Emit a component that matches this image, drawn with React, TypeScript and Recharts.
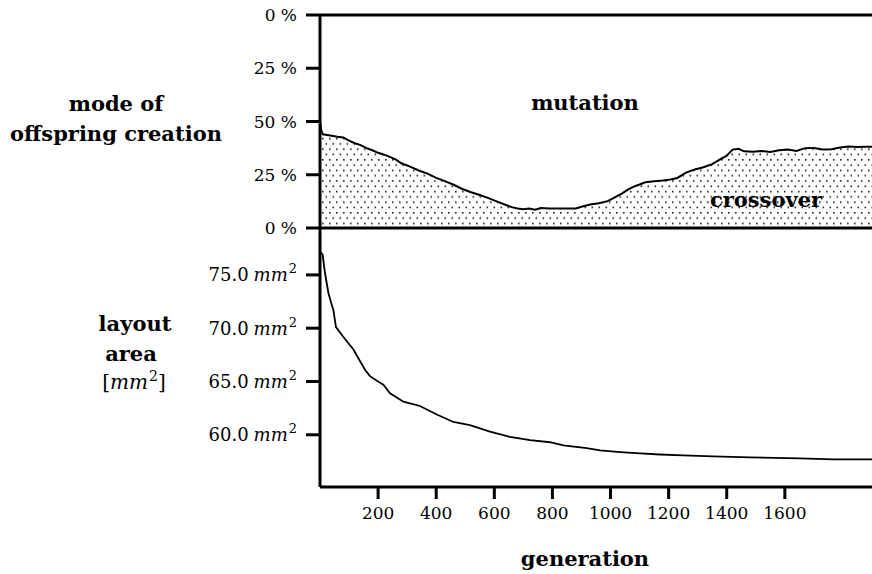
import { AreaChart, Area, LineChart, Line, XAxis, YAxis, ReferenceLine } from 'recharts';

const FONT = "'DejaVu Serif', serif";

// top panel: share of offspring made by crossover (%), counted from the bottom
const crossoverGen = [
  0, 5, 10, 30, 60, 80, 100, 120, 140, 160, 180, 200, 230, 260, 280, 310, 340, 370, 400, 430,
  460, 490, 520, 550, 580, 610, 640, 660, 680, 700, 720, 740, 760, 790, 820, 850, 880, 900, 930, 960,
  990, 1010, 1040, 1060, 1080, 1100, 1120, 1150, 1180, 1200, 1230, 1260, 1290, 1320, 1350, 1380, 1400, 1420, 1440, 1460,
  1490, 1520, 1550, 1580, 1610, 1640, 1670, 1700, 1730, 1760, 1790, 1820, 1850, 1880, 1900,
];
const crossoverPct = [
  50, 45.5, 44, 43.5, 42.8, 42.5, 41, 39.8, 38.9, 37.5, 36.5, 35.3, 34, 32.2, 30.4, 28.8, 27, 25.5, 23.5, 22,
  20.3, 18.3, 16.8, 15.5, 14, 12.4, 10.8, 9.8, 9.2, 8.8, 9.2, 8.6, 9.4, 9.2, 9.2, 9.1, 9.2, 10, 11, 11.6,
  12.6, 14, 16.3, 18, 19.4, 20.4, 21.5, 22, 22.3, 22.6, 23.5, 26, 27.5, 28.5, 30, 32.5, 34, 36.8, 37.2, 36,
  35.8, 36.2, 35.7, 36.5, 36.8, 36.2, 37.5, 37.6, 36.9, 37, 37.8, 38.3, 38, 38.2, 38.2,
];

// bottom panel: layout area in mm^2
const areaGen = [
  0, 9, 17, 29, 38, 46, 55, 80, 115, 138, 155, 172, 200, 218, 241, 287, 344, 402, 459, 516, 585, 654,
  723, 792, 838, 918, 964, 1033, 1102, 1170, 1250, 1353, 1480, 1652, 1766, 1900,
];
const areaMm2 = [
  77.2, 76.9, 75.2, 73.3, 72.4, 71.7, 70.1, 69.2, 68.0, 66.9, 66.1, 65.5, 65.0, 64.7, 63.9, 63.1, 62.7, 61.9, 61.2, 60.9, 60.3, 59.8,
  59.5, 59.3, 59.0, 58.75, 58.53, 58.38, 58.25, 58.15, 58.06, 57.97, 57.88, 57.78, 57.69, 57.69,
];

const genTicks = [200, 400, 600, 800, 1000, 1200, 1400, 1600];
const pctTicks = [0, 25, 50, 75, 100];
const mmTicks = [60, 65, 70, 75];

const topData = crossoverGen.map((g, i) => ({ gen: g, crossover: crossoverPct[i] }));
const bottomData = areaGen.map((g, i) => ({ gen: g, area: areaMm2[i] }));

const tickStyle = { fill: '#000', fontSize: 17, fontFamily: FONT };

const MmTick = ({ x = 0, y = 0, payload }: { x?: number; y?: number; payload?: { value: number } }) => (
  <text x={x} y={y} dy="0.355em" textAnchor="end" fill="#000" fontSize={18} fontFamily={FONT}>
    {payload ? payload.value.toFixed(1) : ''}
    <tspan dx={5} fontStyle="italic">mm</tspan>
    <tspan dx={1} dy={-8} fontSize={13}>2</tspan>
  </text>
);

const bold = { fontFamily: FONT, fontWeight: 'bold' as const, fontSize: 21 };

export default function App() {
  return (
    <div style={{ position: 'absolute', left: 0, top: 0, width: 872, height: 574, background: '#fff' }}>
      <svg width={0} height={0} style={{ position: 'absolute' }}>
        <defs>
          <pattern id="dots" width={7} height={10.6} patternUnits="userSpaceOnUse">
            <rect x={0} y={0} width={1.6} height={1.6} fill="#222" />
            <rect x={3.5} y={5.3} width={1.6} height={1.6} fill="#222" />
          </pattern>
        </defs>
      </svg>

      <div style={{ position: 'absolute', left: 0, top: 0 }}>
        <AreaChart width={872} height={240} data={topData} margin={{ top: 15, right: 0, left: 0, bottom: 12 }}>
          <XAxis dataKey="gen" type="number" domain={[0, 1900]} hide />
          <YAxis
            type="number"
            domain={[0, 100]}
            ticks={pctTicks}
            width={320}
            tickSize={14}
            tickMargin={9}
            tick={tickStyle}
            axisLine={{ stroke: '#000', strokeWidth: 3 }}
            tickLine={{ stroke: '#000', strokeWidth: 3 }}
            tickFormatter={(v: number) => `${v <= 50 ? v : 100 - v} %`}
          />
          <Area
            type="linear"
            dataKey="crossover"
            stroke="#000"
            strokeWidth={2}
            fill="url(#dots)"
            fillOpacity={1}
            baseValue={0}
            isAnimationActive={false}
          />
          <ReferenceLine y={100} stroke="#000" strokeWidth={3} />
          <ReferenceLine y={0} stroke="#000" strokeWidth={3} />
        </AreaChart>
      </div>

      <div style={{ position: 'absolute', left: 0, top: 0 }}>
        <LineChart width={872} height={574} data={bottomData} margin={{ top: 228, right: 0, left: 0, bottom: 27 }}>
          <XAxis
            dataKey="gen"
            type="number"
            domain={[0, 1900]}
            ticks={genTicks}
            height={60}
            tickSize={12}
            tickMargin={8}
            tick={tickStyle}
            axisLine={{ stroke: '#000', strokeWidth: 3 }}
            tickLine={{ stroke: '#000', strokeWidth: 3 }}
          />
          <YAxis
            type="number"
            domain={[55.1, 79.4]}
            ticks={mmTicks}
            allowDataOverflow
            width={320}
            tickSize={14}
            tickMargin={9}
            tick={<MmTick />}
            axisLine={{ stroke: '#000', strokeWidth: 3 }}
            tickLine={{ stroke: '#000', strokeWidth: 3 }}
          />
          <Line type="linear" dataKey="area" stroke="#000" strokeWidth={1.8} dot={false} isAnimationActive={false} />
        </LineChart>
      </div>

      <svg width={872} height={574} style={{ position: 'absolute', left: 0, top: 0, pointerEvents: 'none' }}>
        <text x={116} y={111} textAnchor="middle" {...bold}>mode of</text>
        <text x={116} y={141} textAnchor="middle" {...bold}>offspring creation</text>
        <text x={585} y={110} textAnchor="middle" {...bold}>mutation</text>
        <text x={766} y={207} textAnchor="middle" {...bold}>crossover</text>
        <text x={135} y={331} textAnchor="middle" {...bold}>layout</text>
        <text x={131} y={361} textAnchor="middle" {...bold}>area</text>
        <text x={134} y={389} textAnchor="middle" fontFamily={FONT} fontSize={20}>
          [<tspan fontStyle="italic">mm</tspan>
          <tspan dx={1} dy={-8} fontSize={14}>2</tspan>
          <tspan dy={8}>]</tspan>
        </text>
        <text x={585} y={566} textAnchor="middle" {...bold}>generation</text>
      </svg>
    </div>
  );
}
